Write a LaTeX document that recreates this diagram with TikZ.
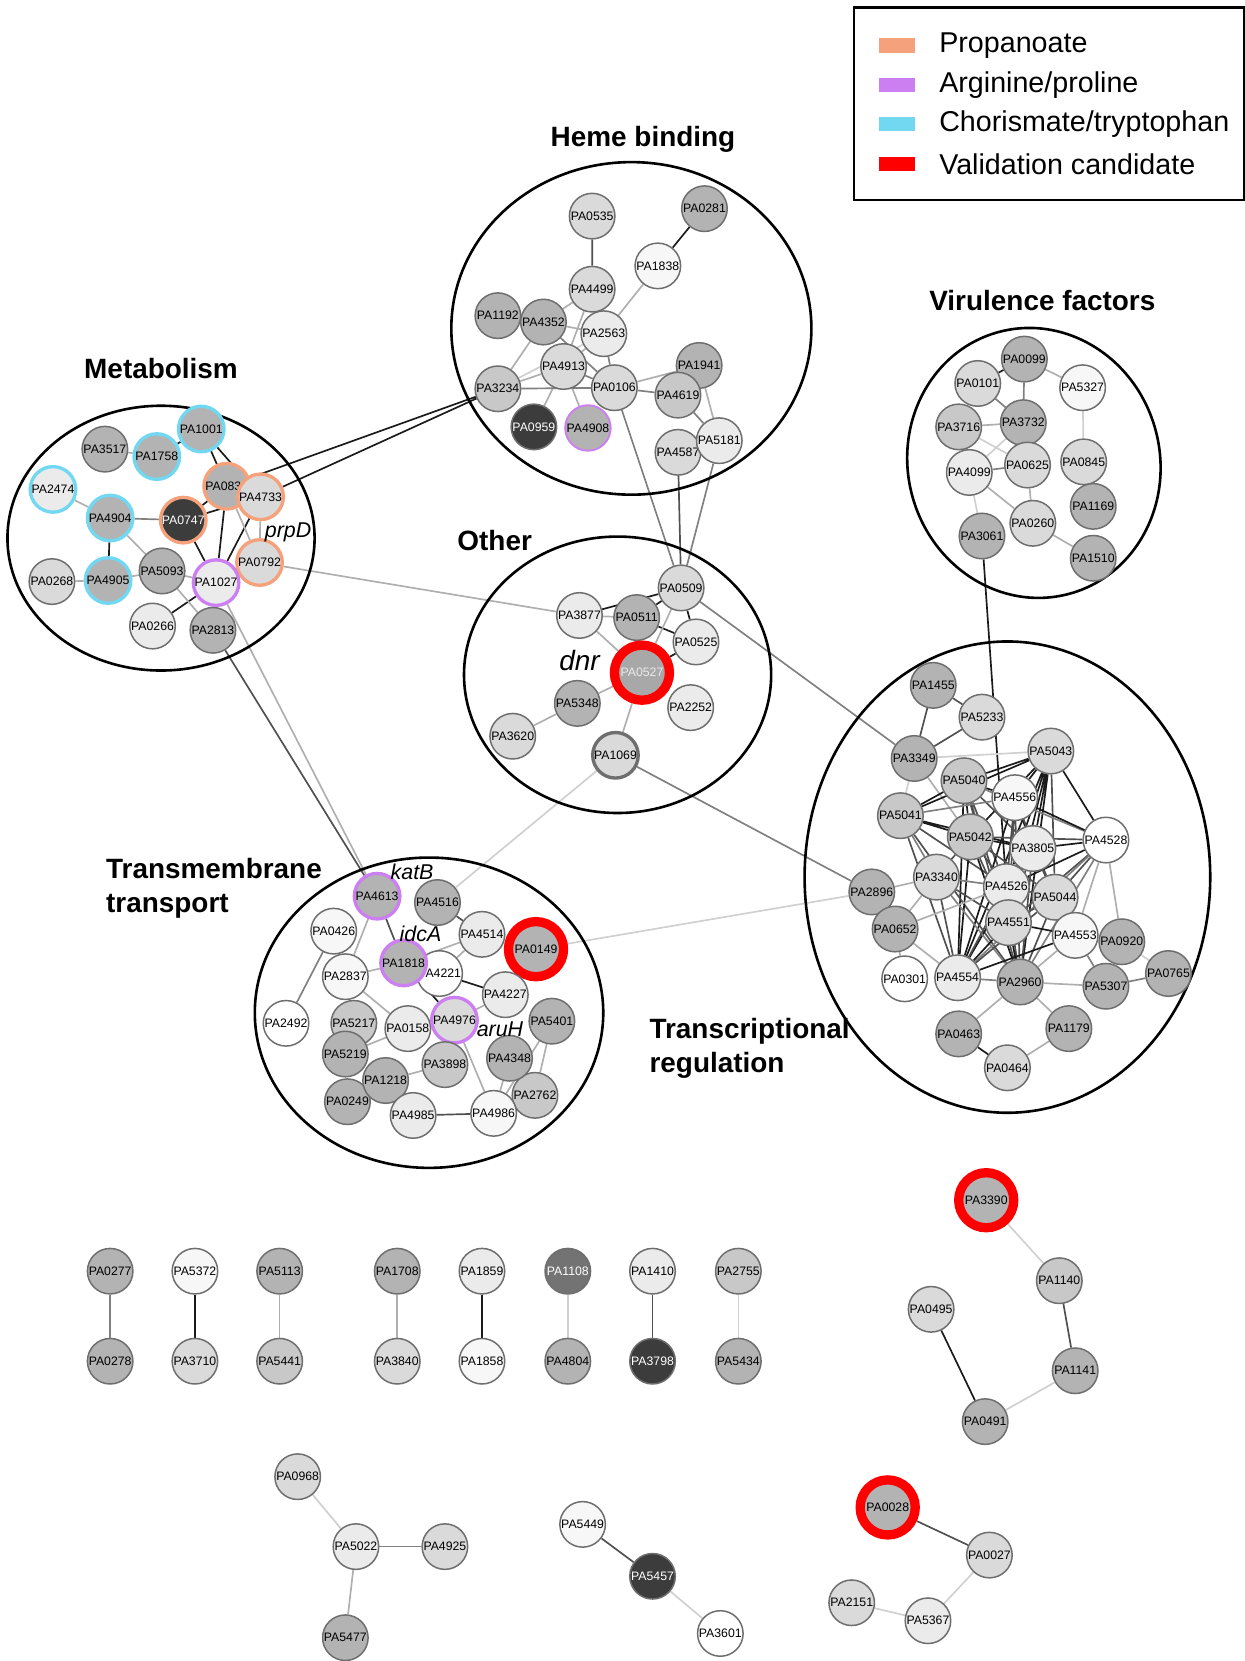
\documentclass[tikz,border=0pt]{standalone}
\usepackage{fontspec}
\setmainfont{Liberation Sans}
\usetikzlibrary{
backgrounds,
positioning,
shapes.geometric
}
\definecolor{propcol}{HTML}{F5A27C}
\definecolor{argcol}{HTML}{CC7FF0}
\definecolor{chorcol}{HTML}{72D8F2}
\definecolor{valcol}{HTML}{FF0000}
\definecolor{ringcol}{HTML}{6E6E6E}
\definecolor{g0}{HTML}{FFFFFF}
\definecolor{g1}{HTML}{F7F7F7}
\definecolor{g2}{HTML}{EBEBEB}
\definecolor{g3}{HTML}{DADADA}
\definecolor{g4}{HTML}{C8C8C8}
\definecolor{g5}{HTML}{B3B3B3}
\definecolor{g6}{HTML}{737373}
\definecolor{g7}{HTML}{3C3C3C}

\begin{document}
\begin{tikzpicture}[x=0.02cm, y=-0.02cm]
		\tikzset{gene/.style={draw=ringcol,shape=circle,line width=0.8pt,inner sep=0pt,minimum size=0.86cm,font=\fontsize{6.6}{7}\selectfont},
			prop/.style={draw=propcol,line width=1.8pt},
			arg/.style={draw=argcol,line width=1.8pt},
			chor/.style={draw=chorcol,line width=1.8pt},
			cand/.style={draw=valcol,line width=5pt,minimum size=1.04cm},
			darkgene/.style={fill=g7,text=white},
			cluster/.style={draw,shape=ellipse,line width=1.4pt,inner sep=0pt},
			title/.style={font=\fontsize{15}{18.2}\selectfont\bfseries},
			gname/.style={font=\fontsize{11.5}{12}\selectfont\itshape},
			swatch/.style={shape=rectangle,inner sep=0pt,minimum width=0.68cm,minimum height=0.27cm},
			legtext/.style={inner sep=0pt,font=\fontsize{15.4}{18}\selectfont},
			e0/.style={draw={rgb,255:red,26;green,26;blue,26},line width=0.9pt},
			e1/.style={draw={rgb,255:red,80;green,80;blue,80},line width=0.9pt},
			e2/.style={draw={rgb,255:red,128;green,128;blue,128},line width=0.9pt},
			e3/.style={draw={rgb,255:red,175;green,175;blue,175},line width=0.9pt},
			e4/.style={draw={rgb,255:red,208;green,208;blue,208},line width=0.9pt}}
		
		\useasboundingbox (0,0) rectangle (1175,1568);
		
		% legend
		\node[draw,line width=1.2pt,minimum width=7.36cm,minimum height=3.64cm,anchor=north west] (legend) at (805,6) {};
		\node[swatch,fill=propcol] (swprop) at (847,43) {};
		\node[swatch,fill=argcol] (swarg) at (847,80) {};
		\node[swatch,fill=chorcol] (swchor) at (847,117) {};
		\node[swatch,fill=valcol] (swval) at (847,155) {};
		\node[legtext,right=0.44cm of swprop] {Propanoate};
		\node[legtext,right=0.44cm of swarg] {Arginine/proline};
		\node[legtext,right=0.44cm of swchor] {Chorismate/tryptophan};
		\node[legtext,right=0.44cm of swval] {Validation candidate};
		
		% clusters
		\node[cluster,minimum width=5.8cm,minimum height=5.0cm] (metab) at (152,508) {};
		\node[cluster,minimum width=6.8cm,minimum height=6.28cm] (heme) at (596,310) {};
		\node[cluster,minimum width=4.76cm,minimum height=5.12cm,rotate=15] (vir) at (976,437) {};
		\node[cluster,minimum width=5.8cm,minimum height=5.22cm] (other) at (583,637) {};
		\node[cluster,minimum width=7.66cm,minimum height=8.9cm] (treg) at (951,828) {};
		\node[cluster,minimum width=6.58cm,minimum height=5.86cm] (tmem) at (405,956) {};
		
		\node[title,anchor=base] at (152,357) {Metabolism};
		\node[title,anchor=base] at (607,138) {Heme binding};
		\node[title,anchor=base] at (984,293) {Virulence factors};
		\node[title,anchor=base] at (467,520) {Other};
		\node[title,anchor=base west,align=left] at (94,861) {Transmembrane\\transport};
		\node[title,anchor=base west,align=left] at (607,1012) {Transcriptional\\regulation};
		
		% Metabolism
		\node[gene,fill=g5] (pa3517) at (99,424) {PA3517};
		\node[gene,fill=g5,chor] (pa1758) at (148,431) {PA1758};
		\node[gene,fill=g5,chor] (pa1001) at (190,405) {PA1001};
		\node[gene,fill=g2,chor] (pa2474) at (50,462) {PA2474};
		\node[gene,fill=g5,prop] (pa0836) at (214,459) {PA0836};
		\node[gene,fill=g3,prop] (pa4733) at (246,469) {PA4733};
		\node[gene,fill=g5,chor] (pa4904) at (104,489) {PA4904};
		\node[gene,darkgene,prop] (pa0747) at (173,491) {PA0747};
		\node[gene,fill=g3,prop] (pa0792) at (245,531) {PA0792};
		\node[gene,fill=g3] (pa0268) at (49,549) {PA0268};
		\node[gene,fill=g5,chor] (pa4905) at (102,548) {PA4905};
		\node[gene,fill=g5] (pa5093) at (153,539) {PA5093};
		\node[gene,fill=g2,arg] (pa1027) at (204,550) {PA1027};
		\node[gene,fill=g2] (pa0266) at (144,591) {PA0266};
		\node[gene,fill=g5] (pa2813) at (201,595) {PA2813};
		\node[gname] at (272,503) {prpD};
		
		% Heme binding
		\node[gene,fill=g3] (pa0535) at (559,204) {PA0535};
		\node[gene,fill=g5] (pa0281) at (665,197) {PA0281};
		\node[gene,fill=g1] (pa1838) at (621,251) {PA1838};
		\node[gene,fill=g3] (pa4499) at (559,273) {PA4499};
		\node[gene,fill=g5] (pa1192) at (470,298) {PA1192};
		\node[gene,fill=g5] (pa4352) at (513,304) {PA4352};
		\node[gene,fill=g2] (pa2563) at (570,315) {PA2563};
		\node[gene,fill=g3] (pa4913) at (532,346) {PA4913};
		\node[gene,fill=g4] (pa3234) at (470,367) {PA3234};
		\node[gene,fill=g5] (pa1941) at (660,345) {PA1941};
		\node[gene,fill=g3] (pa0106) at (580,366) {PA0106};
		\node[gene,fill=g4] (pa4619) at (640,373) {PA4619};
		\node[gene,darkgene] (pa0959) at (504,403) {PA0959};
		\node[gene,fill=g5,arg,line width=1pt] (pa4908) at (555,404) {PA4908};
		\node[gene,fill=g3] (pa4587) at (640,427) {PA4587};
		\node[gene,fill=g2] (pa5181) at (679,416) {PA5181};
		
		% Virulence factors
		\node[gene,fill=g5] (pa0099) at (967,339) {PA0099};
		\node[gene,fill=g3] (pa0101) at (923,362) {PA0101};
		\node[gene,fill=g1] (pa5327) at (1022,366) {PA5327};
		\node[gene,fill=g4] (pa3716) at (905,403) {PA3716};
		\node[gene,fill=g5] (pa3732) at (966,399) {PA3732};
		\node[gene,fill=g3] (pa0625) at (970,439) {PA0625};
		\node[gene,fill=g2] (pa4099) at (915,446) {PA4099};
		\node[gene,fill=g3] (pa0845) at (1023,436) {PA0845};
		\node[gene,fill=g5] (pa1169) at (1032,478) {PA1169};
		\node[gene,fill=g5] (pa3061) at (927,506) {PA3061};
		\node[gene,fill=g3] (pa0260) at (975,494) {PA0260};
		\node[gene,fill=g5] (pa1510) at (1032,527) {PA1510};
		
		% Other
		\node[gene,fill=g3] (pa0509) at (643,555) {PA0509};
		\node[gene,fill=g2] (pa3877) at (547,581) {PA3877};
		\node[gene,fill=g5] (pa0511) at (601,583) {PA0511};
		\node[gene,fill=g2] (pa0525) at (657,606) {PA0525};
		\node[gene,fill={rgb,255:red,168;green,168;blue,168},text=g2,cand] (pa0527) at (606,635) {PA0527};
		\node[gene,fill=g5] (pa5348) at (545,664) {PA5348};
		\node[gene,fill=g2] (pa2252) at (652,668) {PA2252};
		\node[gene,fill=g3] (pa3620) at (484,695) {PA3620};
		\node[gene,fill=g3,line width=1.8pt] (pa1069) at (581,713) {PA1069};
		\node[gname,font=\fontsize{15}{16}\selectfont\itshape] at (547,624) {dnr};
		
		% Transcriptional regulation
		\node[gene,fill=g5] (pa1455) at (881,647) {PA1455};
		\node[gene,fill=g3] (pa5233) at (927,677) {PA5233};
		\node[gene,fill=g5] (pa3349) at (863,716) {PA3349};
		\node[gene,fill=g3] (pa5043) at (992,709) {PA5043};
		\node[gene,fill=g4] (pa5040) at (910,737) {PA5040};
		\node[gene,fill=g1] (pa4556) at (958,753) {PA4556};
		\node[gene,fill=g4] (pa5041) at (850,770) {PA5041};
		\node[gene,fill=g4] (pa5042) at (916,790) {PA5042};
		\node[gene,fill=g2] (pa3805) at (975,801) {PA3805};
		\node[gene,fill=g0] (pa4528) at (1044,793) {PA4528};
		\node[gene,fill=g5] (pa2896) at (823,842) {PA2896};
		\node[gene,fill=g3] (pa3340) at (884,828) {PA3340};
		\node[gene,fill=g2] (pa4526) at (950,837) {PA4526};
		\node[gene,fill=g3] (pa5044) at (996,847) {PA5044};
		\node[gene,fill=g3] (pa4551) at (952,871) {PA4551};
		\node[gene,fill=g5] (pa0652) at (845,877) {PA0652};
		\node[gene,fill=g1] (pa4553) at (1015,883) {PA4553};
		\node[gene,fill=g5] (pa0920) at (1059,889) {PA0920};
		\node[gene,fill=g0] (pa0301) at (854,924) {PA0301};
		\node[gene,fill=g2] (pa4554) at (904,923) {PA4554};
		\node[gene,fill=g5] (pa2960) at (963,927) {PA2960};
		\node[gene,fill=g5] (pa5307) at (1044,931) {PA5307};
		\node[gene,fill=g5] (pa0765) at (1103,919) {PA0765};
		\node[gene,fill=g5] (pa0463) at (905,976) {PA0463};
		\node[gene,fill=g5] (pa1179) at (1009,971) {PA1179};
		\node[gene,fill=g3] (pa0464) at (951,1008) {PA0464};
		
		% Transmembrane transport
		\node[gene,fill=g5,arg] (pa4613) at (356,846) {PA4613};
		\node[gene,fill=g5] (pa4516) at (413,852) {PA4516};
		\node[gene,fill=g1] (pa0426) at (315,879) {PA0426};
		\node[gene,fill=g2] (pa4514) at (455,882) {PA4514};
		\node[gene,fill=g5,cand] (pa0149) at (506,896) {PA0149};
		\node[gene,fill=g0] (pa4221) at (415,919) {PA4221};
		\node[gene,fill=g5,arg] (pa1818) at (381,909) {PA1818};
		\node[gene,fill=g1] (pa2837) at (326,922) {PA2837};
		\node[gene,fill=g2] (pa4227) at (477,939) {PA4227};
		\node[gene,fill=g0] (pa2492) at (270,966) {PA2492};
		\node[gene,fill=g4] (pa5217) at (334,966) {PA5217};
		\node[gene,fill=g5] (pa5219) at (326,995) {PA5219};
		\node[gene,fill=g2] (pa0158) at (385,971) {PA0158};
		\node[gene,fill=g3,arg] (pa4976) at (429,963) {PA4976};
		\node[gene,fill=g5] (pa5401) at (521,964) {PA5401};
		\node[gene,fill=g4] (pa3898) at (420,1005) {PA3898};
		\node[gene,fill=g4] (pa2762) at (505,1034) {PA2762};
		\node[gene,fill=g5] (pa4348) at (481,999) {PA4348};
		\node[gene,fill=g5] (pa0249) at (328,1040) {PA0249};
		\node[gene,fill=g5] (pa1218) at (364,1020) {PA1218};
		\node[gene,fill=g2] (pa4985) at (390,1053) {PA4985};
		\node[gene,fill=g1] (pa4986) at (466,1051) {PA4986};
		\node[gname] at (389,823) {katB};
		\node[gname] at (397,882) {idcA};
		\node[gname] at (472,972) {aruH};
		
		% pairs
		\node[gene,fill=g5] (pa0277) at (104,1200) {PA0277};
		\node[gene,fill=g5] (pa0278) at (104,1285) {PA0278};
		\node[gene,fill=g1] (pa5372) at (184,1200) {PA5372};
		\node[gene,fill=g3] (pa3710) at (184,1285) {PA3710};
		\node[gene,fill=g5] (pa5113) at (264,1200) {PA5113};
		\node[gene,fill=g4] (pa5441) at (264,1285) {PA5441};
		\node[gene,fill=g5] (pa1708) at (375,1200) {PA1708};
		\node[gene,fill=g3] (pa3840) at (375,1285) {PA3840};
		\node[gene,fill=g2] (pa1859) at (455,1200) {PA1859};
		\node[gene,fill=g1] (pa1858) at (455,1285) {PA1858};
		\node[gene,fill=g6,text=white] (pa1108) at (536,1200) {PA1108};
		\node[gene,fill=g5] (pa4804) at (536,1285) {PA4804};
		\node[gene,fill=g2] (pa1410) at (616,1200) {PA1410};
		\node[gene,darkgene] (pa3798) at (616,1285) {PA3798};
		\node[gene,fill=g4] (pa2755) at (697,1200) {PA2755};
		\node[gene,fill=g5] (pa5434) at (697,1285) {PA5434};
		
		% small groups
		\node[gene,fill=g5,cand] (pa3390) at (931,1133) {PA3390};
		\node[gene,fill=g4] (pa1140) at (1000,1209) {PA1140};
		\node[gene,fill=g3] (pa0495) at (879,1236) {PA0495};
		\node[gene,fill=g5] (pa1141) at (1015,1294) {PA1141};
		\node[gene,fill=g5] (pa0491) at (930,1342) {PA0491};
		\node[gene,fill=g5,cand] (pa0028) at (838,1423) {PA0028};
		\node[gene,fill=g3] (pa0027) at (934,1468) {PA0027};
		\node[gene,fill=g3] (pa2151) at (804,1513) {PA2151};
		\node[gene,fill=g2] (pa5367) at (876,1530) {PA5367};
		\node[gene,fill=g3] (pa0968) at (281,1394) {PA0968};
		\node[gene,fill=g2] (pa5022) at (336,1460) {PA5022};
		\node[gene,fill=g3] (pa4925) at (420,1460) {PA4925};
		\node[gene,fill=g5] (pa5477) at (326,1546) {PA5477};
		\node[gene,fill=g1] (pa5449) at (550,1439) {PA5449};
		\node[gene,darkgene] (pa5457) at (616,1488) {PA5457};
		\node[gene,fill=g0] (pa3601) at (680,1542) {PA3601};
		
		\begin{scope}[on background layer]
		% Metabolism
		\draw[e0] (pa1758) -- (pa1001) (pa1001) -- (pa0836) (pa1001) -- (pa4733) (pa4904) -- (pa4905);
		\draw[e0] (pa0747) -- (pa0836) (pa0747) -- (pa4733) (pa0747) -- (pa1027) (pa0836) -- (pa1027) (pa4733) -- (pa1027) (pa0266) -- (pa1027);
		\draw[e0] (pa0836) -- (pa3234) (pa4733) -- (pa3234);
		\draw[e2] (pa4904) -- (pa0747);
		\draw[e3] (pa3517) -- (pa1758) (pa2474) -- (pa4904) (pa4904) -- (pa5093) (pa0268) -- (pa4905) (pa4905) -- (pa5093);
		\draw[e3] (pa5093) -- (pa1027) (pa5093) -- (pa2813) (pa0836) -- (pa0792) (pa4733) -- (pa0792) (pa1027) -- (pa0792);
		\draw[e3] (pa0792) -- (pa3877) (pa1027) -- (pa4613);
		\draw[e1] (pa2813) -- (pa4613);
		% Heme binding
		\draw[e1] (pa0535) -- (pa4499) (pa4587) -- (pa0509);
		\draw[e0] (pa0281) -- (pa1838);
		\draw[e3] (pa1838) -- (pa2563) (pa4499) -- (pa4352) (pa4499) -- (pa4913) (pa4352) -- (pa2563) (pa4352) -- (pa3234) (pa2563) -- (pa4913);
		\draw[e3] (pa3234) -- (pa4913) (pa4913) -- (pa0959) (pa4913) -- (pa4908) (pa0106) -- (pa1941) (pa1941) -- (pa5181);
		\draw[e4] (pa3234) -- (pa2563);
		\draw[e2] (pa4352) -- (pa0106) (pa2563) -- (pa0106) (pa3234) -- (pa0106) (pa4913) -- (pa0106) (pa0106) -- (pa4619) (pa4619) -- (pa5181);
		\draw[e2] (pa0106) -- (pa0509) (pa5181) -- (pa0509);
		% Virulence factors
		\draw[e0] (pa0101) -- (pa0099) (pa3061) -- (pa4526);
		\draw[e2] (pa0099) -- (pa3732) (pa0101) -- (pa3732) (pa4099) -- (pa0625);
		\draw[e3] (pa0099) -- (pa5327) (pa3716) -- (pa3732) (pa0625) -- (pa0260) (pa4099) -- (pa0260) (pa0260) -- (pa1510);
		\draw[e4] (pa3716) -- (pa0625) (pa3732) -- (pa4099) (pa5327) -- (pa0845) (pa4099) -- (pa3061);
		% Other
		\draw[e0] (pa3877) -- (pa0509) (pa0511) -- (pa0509) (pa0511) -- (pa0525) (pa0509) -- (pa0525) (pa0525) -- (pa0527);
		\draw[e3] (pa3877) -- (pa0511) (pa0509) -- (pa0527) (pa3877) -- (pa0527) (pa5348) -- (pa0527) (pa0527) -- (pa1069) (pa5348) -- (pa3620);
		\draw[e2] (pa0509) -- (pa3349) (pa1069) -- (pa2896);
		\draw[e4] (pa1069) -- (pa4516) (pa0149) -- (pa2896);
		% Transcriptional regulation
		\draw[e1] (pa1455) -- (pa5233) (pa1455) -- (pa3349) (pa5233) -- (pa3349);
		\draw[e4] (pa3349) -- (pa5043) (pa3349) -- (pa5041);
		\draw[e3] (pa3349) -- (pa5042);
		\draw[e0] (pa5043) -- (pa5040) (pa5043) -- (pa4556) (pa5043) -- (pa5041) (pa5043) -- (pa5042) (pa5043) -- (pa3805) (pa5043) -- (pa4526) (pa5043) -- (pa4551) (pa5043) -- (pa4554) (pa5043) -- (pa2960) (pa5043) -- (pa4528);
		\draw[e1] (pa5043) -- (pa5044);
		\draw[e0] (pa5040) -- (pa4556) (pa5040) -- (pa5041) (pa5040) -- (pa5042) (pa5040) -- (pa4554);
		\draw[e1] (pa5040) -- (pa3805) (pa5040) -- (pa4526) (pa5040) -- (pa4551) (pa5040) -- (pa2960);
		\draw[e2] (pa5040) -- (pa4528) (pa5041) -- (pa4556) (pa5041) -- (pa3340);
		\draw[e0] (pa5041) -- (pa5042) (pa5041) -- (pa3805);
		\draw[e1] (pa5041) -- (pa4554) (pa5041) -- (pa4526) (pa5041) -- (pa2960);
		\draw[e0] (pa4556) -- (pa4528) (pa4556) -- (pa3805) (pa4556) -- (pa4554);
		\draw[e1] (pa4556) -- (pa4526) (pa4556) -- (pa5044) (pa4556) -- (pa2960) (pa4556) -- (pa4551);
		\draw[e0] (pa5042) -- (pa3805) (pa5042) -- (pa4554) (pa5042) -- (pa2960);
		\draw[e1] (pa5042) -- (pa3340) (pa5042) -- (pa4526) (pa5042) -- (pa4551) (pa5042) -- (pa5044) (pa5042) -- (pa4528);
		\draw[e0] (pa3805) -- (pa4528) (pa3805) -- (pa4554) (pa4528) -- (pa4526);
		\draw[e1] (pa3805) -- (pa4526) (pa3805) -- (pa5044) (pa3805) -- (pa4551) (pa3805) -- (pa2960);
		\draw[e1] (pa4528) -- (pa5044) (pa4528) -- (pa4551);
		\draw[e2] (pa4528) -- (pa4554) (pa4528) -- (pa2960);
		\draw[e1] (pa3340) -- (pa4554) (pa3340) -- (pa4551);
		\draw[e2] (pa3340) -- (pa4526) (pa3340) -- (pa2960);
		\draw[e1] (pa4526) -- (pa5044) (pa4526) -- (pa4551) (pa4526) -- (pa4554) (pa4526) -- (pa2960);
		\draw[e1] (pa5044) -- (pa4551) (pa5044) -- (pa4554) (pa5044) -- (pa2960);
		\draw[e2] (pa5044) -- (pa4553);
		\draw[e0] (pa4551) -- (pa4554) (pa4551) -- (pa2960) (pa4553) -- (pa4551) (pa4553) -- (pa4554) (pa0463) -- (pa0464);
		\draw[e3] (pa2896) -- (pa3340) (pa0652) -- (pa3340) (pa0652) -- (pa4526) (pa0652) -- (pa4554) (pa0652) -- (pa0301);
		\draw[e3] (pa4553) -- (pa2960) (pa4528) -- (pa0920) (pa2960) -- (pa5307) (pa2960) -- (pa0463) (pa2960) -- (pa1179) (pa0464) -- (pa1179) (pa4528) -- (pa4553);
		\draw[e4] (pa0920) -- (pa0765);
		\draw[e2] (pa4553) -- (pa5307) (pa5307) -- (pa0765) (pa4554) -- (pa2960);
		% Transmembrane transport
		\draw[e1] (pa4613) -- (pa1818) (pa4516) -- (pa4514) (pa4985) -- (pa4986);
		\draw[e0] (pa1818) -- (pa4976) (pa4221) -- (pa4227);
		\draw[e2] (pa0426) -- (pa2492);
		\draw[e3] (pa4613) -- (pa2837) (pa2837) -- (pa1818) (pa1818) -- (pa4514) (pa4514) -- (pa4221) (pa2837) -- (pa0158) (pa5219) -- (pa0158);
		\draw[e3] (pa4976) -- (pa4227) (pa4976) -- (pa4986) (pa3898) -- (pa1218) (pa4348) -- (pa4986) (pa5401) -- (pa4986) (pa5401) -- (pa2762);
		% pairs and small groups
		\draw[e2] (pa0277) -- (pa0278);
		\draw[e0] (pa5372) -- (pa3710);
		\draw[e3] (pa5113) -- (pa5441);
		\draw[e3] (pa1708) -- (pa3840);
		\draw[e0] (pa1859) -- (pa1858);
		\draw[e4] (pa1108) -- (pa4804);
		\draw[e1] (pa1410) -- (pa3798);
		\draw[e4] (pa2755) -- (pa5434);
		\draw[e4] (pa3390) -- (pa1140) (pa0491) -- (pa1141) (pa0027) -- (pa5367) (pa2151) -- (pa5367) (pa0968) -- (pa5022) (pa5457) -- (pa3601);
		\draw[e1] (pa1140) -- (pa1141) (pa0028) -- (pa0027) (pa5449) -- (pa5457);
		\draw[e0] (pa0495) -- (pa0491);
		\draw[e2] (pa5022) -- (pa4925);
		\draw[e3] (pa5022) -- (pa5477);
		\end{scope}
	\end{tikzpicture}
\end{document}
